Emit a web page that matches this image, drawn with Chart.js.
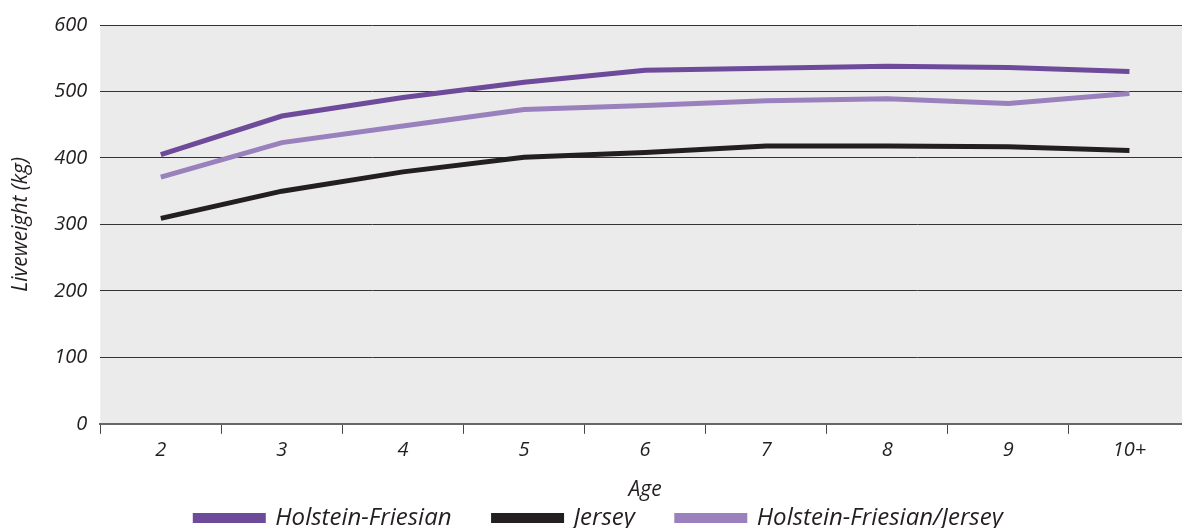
<!DOCTYPE html>
<html>
<head>
<meta charset="utf-8">
<script src="https://cdn.jsdelivr.net/npm/chart.js@4/dist/chart.umd.min.js"></script>
<style>
  html, body { margin: 0; padding: 0; background: #fff; overflow: hidden; }
  #wrap { width: 1190px; height: 528px; }
</style>
</head>
<body>
<div id="wrap"><canvas id="mychart"></canvas></div>
<script>
let ages = ['2', '3', '4', '5', '6', '7', '8', '9', '10+'];
let holstein = [405, 463, 491, 514, 532, 535, 538, 536, 530];
let jersey = [309, 350, 379, 401, 408, 418, 418, 417, 411];
let crossbred = [371, 423, 448, 473, 479, 486, 489, 482, 497];

let fontFamily = "'Open Sans', 'Noto Sans', sans-serif";

// grey panel behind the plot
let panelBg = {
    id: 'panelBg',
    beforeDraw: function (chart) {
        let a = chart.chartArea;
        let c = chart.ctx;
        c.save();
        c.fillStyle = '#ebebeb';
        c.fillRect(a.left, a.top, a.right - a.left, a.bottom - a.top);
        c.restore();
    }
};

let chartdata = {
    labels: ages,
    datasets: [{
        label: 'Holstein-Friesian',
        data: holstein,
        borderColor: '#6e4a9b',
        backgroundColor: '#6e4a9b'
    }, {
        label: 'Jersey',
        data: jersey,
        borderColor: '#231f20',
        backgroundColor: '#231f20'
    }, {
        label: 'Holstein-Friesian/Jersey',
        data: crossbred,
        borderColor: '#9a80bd',
        backgroundColor: '#9a80bd'
    }]
};

let ctx = document.getElementById('mychart');
let myLineChart = new Chart(ctx, {
    type: 'line',
    data: chartdata,
    plugins: [panelBg],
    options: {
        responsive: true,
        maintainAspectRatio: false,
        animation: false,
        layout: { padding: { top: 21, right: 0, left: 8, bottom: -12 } },
        elements: {
            line: { borderWidth: 5, tension: 0, borderCapStyle: 'butt' },
            point: { radius: 0, hoverRadius: 0 }
        },
        plugins: {
            tooltip: { enabled: false },
            legend: {
                position: 'bottom',
                labels: {
                    boxWidth: 68,
                    boxHeight: 5,
                    padding: 42,
                    color: '#231f20',
                    font: { family: fontFamily, size: 24, style: 'italic' }
                }
            }
        },
        scales: {
            x: {
                offset: true,
                grid: {
                    offset: true,
                    drawOnChartArea: false,
                    tickLength: 10,
                    color: '#444'
                },
                border: { display: true, color: '#666', width: 2 },
                ticks: {
                    color: '#231f20',
                    padding: 4,
                    font: { family: fontFamily, size: 20, style: 'italic' }
                },
                title: {
                    display: true,
                    text: 'Age',
                    color: '#231f20',
                    padding: { top: 12, bottom: -39 },
                    font: { family: fontFamily, size: 21, style: 'italic' }
                }
            },
            y: {
                min: 0,
                max: 600,
                grid: {
                    drawTicks: false,
                    color: '#333',
                    lineWidth: 1
                },
                border: { display: false },
                ticks: {
                    stepSize: 100,
                    color: '#231f20',
                    padding: 13,
                    font: { family: fontFamily, size: 20, style: 'italic' }
                },
                title: {
                    display: true,
                    text: 'Liveweight (kg)',
                    color: '#231f20',
                    padding: { top: 0, bottom: 8 },
                    font: { family: fontFamily, size: 21, style: 'italic' }
                }
            }
        }
    }
});
</script>
</body>
</html>
